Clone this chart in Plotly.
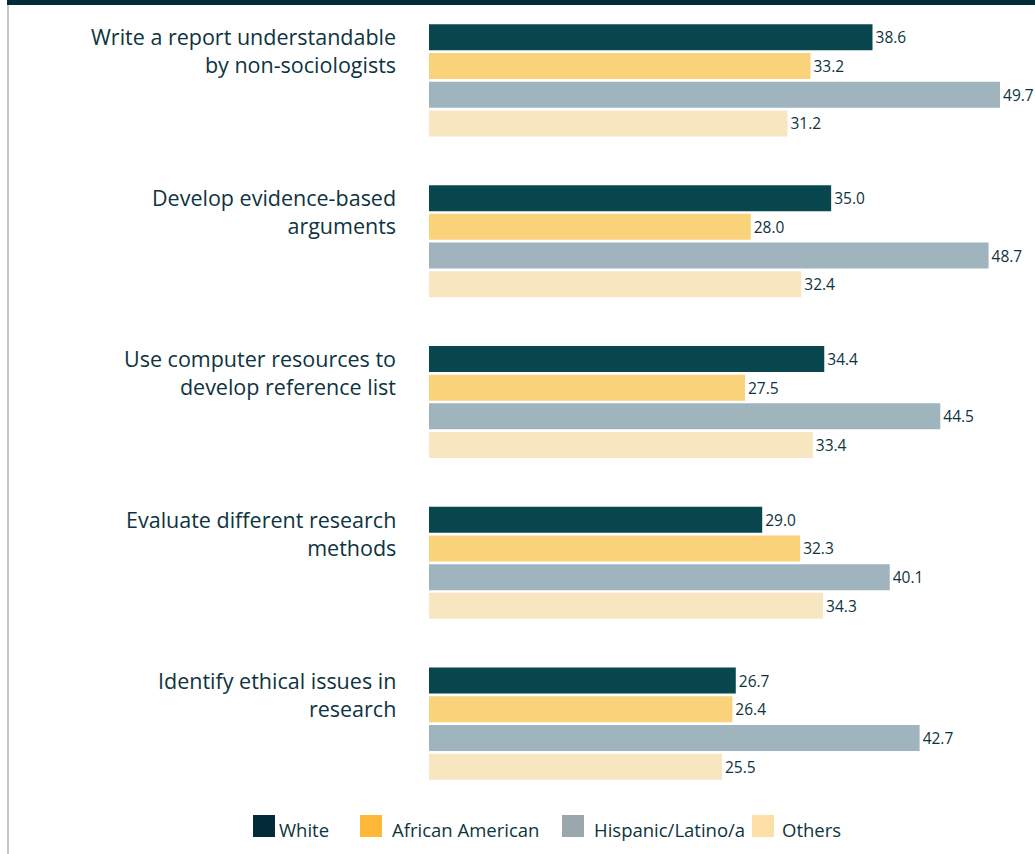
import plotly.graph_objects as go

categories = [
    "Write a report understandable<br>by non-sociologists",
    "Develop evidence-based<br>arguments",
    "Use computer resources to<br>develop reference list",
    "Evaluate different research<br>methods",
    "Identify ethical issues in<br>research",
]
series_names = ["White", "African American", "Hispanic/Latino/a", "Others"]
white = [38.6, 35.0, 34.4, 29.0, 26.7]
african_american = [33.2, 28.0, 27.5, 32.3, 26.4]
hispanic = [49.7, 48.7, 44.5, 40.1, 42.7]
others = [31.2, 32.4, 33.4, 34.3, 25.5]
values = [white, african_american, hispanic, others]

bar_colors = ["#08474e", "#fad27a", "#a0b4be", "#f8e6c0"]
legend_colors = ["#022a38", "#ffb83a", "#9aa7ac", "#fde0a8"]
text_color = "#0d3440"
FONT = "Open Sans"

W, H = 1035, 854
ML, MR, MT, MB = 429, 1, 0, 50
PW = W - ML - MR
PH = H - MT - MB
PX_PER_UNIT = 11.49

def px_x(px):
    return (px - ML) / PW

def px_y(py):
    return (PH - (py - MT)) / PH

fig = go.Figure()
for name, vals, col in zip(series_names, values, bar_colors):
    fig.add_trace(go.Bar(
        name=name, y=list(range(len(categories))), x=vals, orientation="h",
        marker=dict(color=col, line=dict(width=0)),
        text=[f"{v:.1f}" for v in vals], textposition="outside",
        textfont=dict(family=FONT, size=15.5, color=text_color),
        cliponaxis=False, showlegend=False, hoverinfo="skip",
    ))

annotations = []
for i, cat in enumerate(categories):
    annotations.append(dict(
        x=px_x(398), xref="paper", y=i, yref="y", yanchor="top", xanchor="right",
        yshift=60, text=cat, align="right", showarrow=False,
        font=dict(family=FONT, size=21.5, color=text_color),
    ))

shapes = []
# top band and left rule
shapes.append(dict(type="rect", xref="paper", yref="paper",
                   x0=px_x(7), x1=px_x(W), y0=px_y(5), y1=px_y(0),
                   fillcolor="#022a38", line=dict(width=0), layer="above"))
shapes.append(dict(type="line", xref="paper", yref="paper",
                   x0=px_x(8), x1=px_x(8), y0=px_y(5), y1=px_y(H),
                   line=dict(color="#aab4b9", width=1.5)))

# legend
legend_sq_x = [253, 360, 562, 752]
legend_txt_x = [277, 390, 592, 780]
for name, col, lx, tx in zip(series_names, legend_colors, legend_sq_x, legend_txt_x):
    shapes.append(dict(type="rect", xref="paper", yref="paper",
                       x0=px_x(lx), x1=px_x(lx + 22), y0=px_y(837), y1=px_y(815),
                       fillcolor=col, line=dict(width=0)))
    annotations.append(dict(
        x=px_x(tx), xref="paper", y=px_y(829), yref="paper",
        xanchor="left", yanchor="middle", text=name, showarrow=False,
        font=dict(family=FONT, size=18.5, color=text_color),
    ))

fig.update_layout(
    width=W, height=H,
    margin=dict(l=ML, r=MR, t=MT, b=MB, pad=0, autoexpand=False),
    paper_bgcolor="white", plot_bgcolor="white",
    barmode="group", bargap=0.286, bargroupgap=0.094,
    xaxis=dict(range=[0, PW / PX_PER_UNIT], visible=False, fixedrange=True),
    yaxis=dict(range=[len(categories) - 0.5, -0.5], visible=False, fixedrange=True),
    annotations=annotations, shapes=shapes, showlegend=False,
)

fig.write_html(
    "out.html",
    config={"displayModeBar": False},
    post_script="document.body.style.margin='0';document.body.style.overflow='hidden';",
)
